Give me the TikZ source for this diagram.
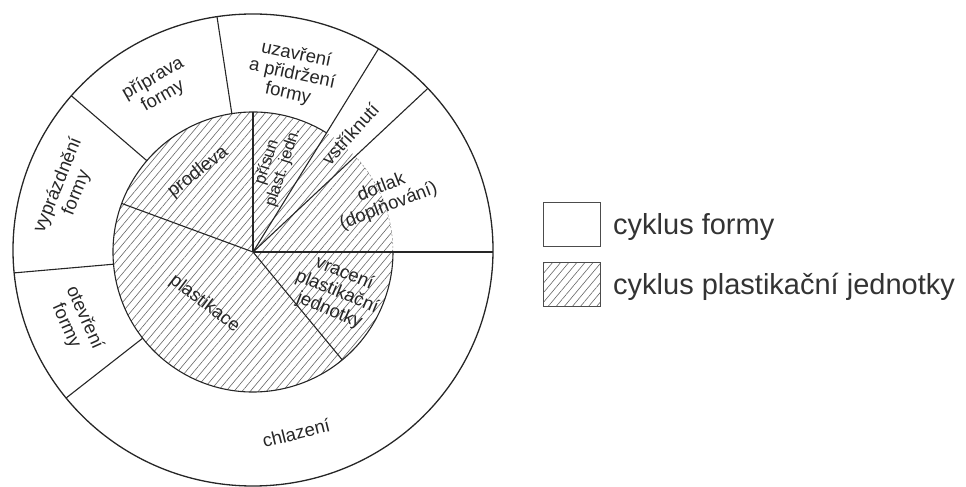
\documentclass[tikz,border=0pt]{standalone}
\usepackage{fontspec}
\setmainfont{Liberation Sans}
\usetikzlibrary{patterns.meta}
\begin{document}
\begin{tikzpicture}[x=1pt,y=1pt,
  lab/.style={font=\fontsize{18.5}{20}\selectfont, align=center, text=black!85, inner sep=0pt},
  smalllab/.style={font=\fontsize{16.5}{17}\selectfont, align=center, text=black!85, inner sep=0pt},
  div/.style={line width=1.1pt, draw=black!85},
  hatch/.style={pattern={Lines[angle=50,distance=6.2pt,line width=0.6pt]}, pattern color=black!60},
  legtext/.style={font=\fontsize{29}{32}\selectfont, anchor=base west, text=black!80, inner sep=0pt},
  legbox/.style={draw=black!70, line width=1pt, minimum width=57pt, minimum height=44pt, inner sep=0pt}]
\useasboundingbox (0,0) rectangle (966,487);
\coordinate (C) at (253,235);
\coordinate (O) at (253,237);
\def\r{140}
% hatched inner disk
\fill[hatch] (C) circle[radius=\r];
% outer ellipse
\draw[line width=1.3pt, black!85] (O) ellipse[x radius=240, y radius=236];
% inner circle (solid part)
\draw[div] ([shift={(58.3:\r)}]C) arc[start angle=58.3, end angle=360, radius=\r];
% faint hatch edge under dotlak
\draw[black!45, dash pattern=on 2pt off 2pt, line width=0.5pt] ([shift={(0:\r)}]C) arc[start angle=0, end angle=43.1, radius=\r];
\begin{scope}
  \clip (O) ellipse[x radius=240, y radius=236];
  % outer ring dividers
  \foreach \a in {98.7,139.3,185,218} \draw[div] ([shift={(\a:\r)}]C) -- ([shift={(\a:260)}]C);
  % full radii
  \foreach \a in {0,43.1,58.3} \draw[div] (C) -- ([shift={(\a:260)}]C);
\end{scope}
% inner radii
\foreach \a in {90,159.7,-50.4} \draw[div] (C) -- ([shift={(\a:\r)}]C);
% labels, outer ring
\node[lab, rotate=30] (pri) at ([shift={(120:190)}]C) {příprava\\formy};
\node[lab, rotate=-12] (uza) at ([shift={(77.6:182)}]C) {uzavření\\a přidržení\\formy};
\node[lab, rotate=68] (vyp) at ([shift={(161.3:196)}]C) {vyprázdnění\\formy};
\node[lab, rotate=-66] (ote) at ([shift={(201.5:191)}]C) {otevření\\formy};
\node[lab, rotate=14] (chl) at ([shift={(283.4:186)}]C) {chlazení};
\node[lab, rotate=48] (vst) at ([shift={(50.6:153)}]C) {vstříknutí};
% labels, inner
\node[smalllab, rotate=72] (prs) at ([shift={(75.8:90)}]C) {přísun\\plast. jedn.};
\node[lab, rotate=38] (pro) at ([shift={(124.5:97)}]C) {prodleva};
\node[lab, rotate=-37] (pla) at ([shift={(227:71)}]C) {plastikace};
\node[lab, rotate=21] (dot) at ([shift={(22.6:143)}]C) {dotlak\\(doplňování)};
\node[lab, rotate=-22] (vra) at ([shift={(-25.5:93)}]C) {vracení\\plastikační\\jednotky};
% legend
\node[legbox] (b1) at (571.5,262) {};
\node[legbox, hatch] (b2) at (571.5,202) {};
\node[legtext] (t1) at (613,252) {cyklus formy};
\node[legtext] (t2) at (613,192) {cyklus plastikační jednotky};
\end{tikzpicture}
\end{document}
